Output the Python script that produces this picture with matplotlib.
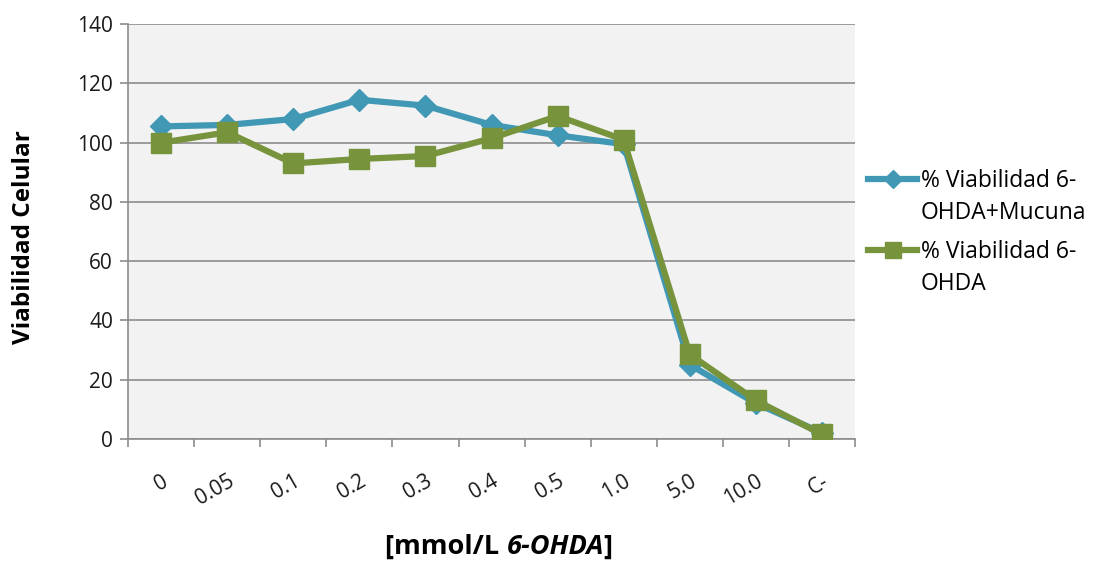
import matplotlib
matplotlib.use("Agg")
import matplotlib.pyplot as plt
import matplotlib.transforms as mtransforms
from matplotlib.offsetbox import TextArea, HPacker, AnnotationBbox

categories = ["0", "0.05", "0.1", "0.2", "0.3", "0.4", "0.5", "1.0", "5.0", "10.0", "C-"]
mucuna = [105.5, 106, 108, 114.5, 112.5, 106, 102.5, 99.5, 25, 12, 2]
ohda = [100, 103.5, 93, 94.5, 95.5, 101.5, 109, 101, 28.5, 13, 1.5]
label_first = ["% Viabilidad 6-", "% Viabilidad 6-"]
label_second = ["OHDA+Mucuna", "OHDA"]
yticks = [0, 20, 40, 60, 80, 100, 120, 140]

plt.rcParams['font.family'] = ['Open Sans', 'DejaVu Sans']

fig = plt.figure(figsize=(10.96, 5.64), dpi=100)
ax = fig.add_axes([0.117, 0.222, 0.663, 0.735])
ax.set_facecolor("#F2F2F2")

x = list(range(len(categories)))
blue = "#4198B4"
green = "#77933C"
l1, = ax.plot(x, mucuna, color=blue, lw=4.5, marker="D", markersize=11, zorder=3)
l2, = ax.plot(x, ohda, color=green, lw=4.5, marker="s", markersize=15, zorder=4)

ax.set_xlim(-0.5, len(categories) - 0.5)
ax.set_ylim(0, 140)
ax.set_yticks(yticks)
ax.yaxis.grid(True, color="#8C8C8C", lw=1.2)
ax.set_axisbelow(True)
for s in ["top", "right"]:
    ax.spines[s].set_visible(False)
for s in ["left", "bottom"]:
    ax.spines[s].set_color("#8C8C8C")
    ax.spines[s].set_linewidth(1.2)

ax.set_xticks([i - 0.5 for i in range(len(categories) + 1)])
ax.set_xticklabels([])
ax.set_xticks(x, minor=True)
ax.set_xticklabels(categories, minor=True, rotation=30, ha="right",
                   rotation_mode="anchor", fontsize=15, color="#1a1a1a")
shift = mtransforms.ScaledTranslation(4 / 100, 0, fig.dpi_scale_trans)
for lab in ax.get_xticklabels(minor=True):
    lab.set_transform(lab.get_transform() + shift)
ax.tick_params(axis="x", which="major", length=6, color="#8C8C8C", width=1.2)
ax.tick_params(axis="x", which="minor", length=0, pad=23)
ax.tick_params(axis="y", length=6, color="#8C8C8C", width=1.2, pad=5,
               labelsize=15, labelcolor="#1a1a1a")

fig.text(24 / 1096, 0.58, "Viabilidad Celular", rotation=90, ha="center",
         va="center", fontsize=17.5, fontweight="bold")

t1 = TextArea("[mmol/L ", textprops=dict(fontsize=19.5, fontweight="bold", color="black"))
t2 = TextArea("6-OHDA", textprops=dict(fontsize=19.5, fontweight="bold", style="italic", color="black"))
t3 = TextArea("]", textprops=dict(fontsize=19.5, fontweight="bold", color="black"))
box = HPacker(children=[t1, t2, t3], align="baseline", pad=0, sep=0)
ab = AnnotationBbox(box, (499 / 1096, 0.03), xycoords="figure fraction",
                    frameon=False, box_alignment=(0.5, 0.5))
fig.add_artist(ab)

leg = fig.legend([l1, l2], label_first, loc="upper left",
                 bbox_to_anchor=(868 / 1096, 0.70), frameon=False,
                 fontsize=16.5, handlelength=2.15, handletextpad=0.15,
                 labelspacing=2.05, markerscale=0.8, borderpad=0,
                 borderaxespad=0)
for txt, second in zip(leg.get_texts(), label_second):
    ann = plt.Annotation(second, xy=(0, 0), xycoords=txt,
                         xytext=(0, -23), textcoords="offset points",
                         va="bottom", ha="left", fontsize=16.5,
                         annotation_clip=False)
    ann.set_zorder(10)
    fig.add_artist(ann)

fig.savefig("out.png", dpi=100)
